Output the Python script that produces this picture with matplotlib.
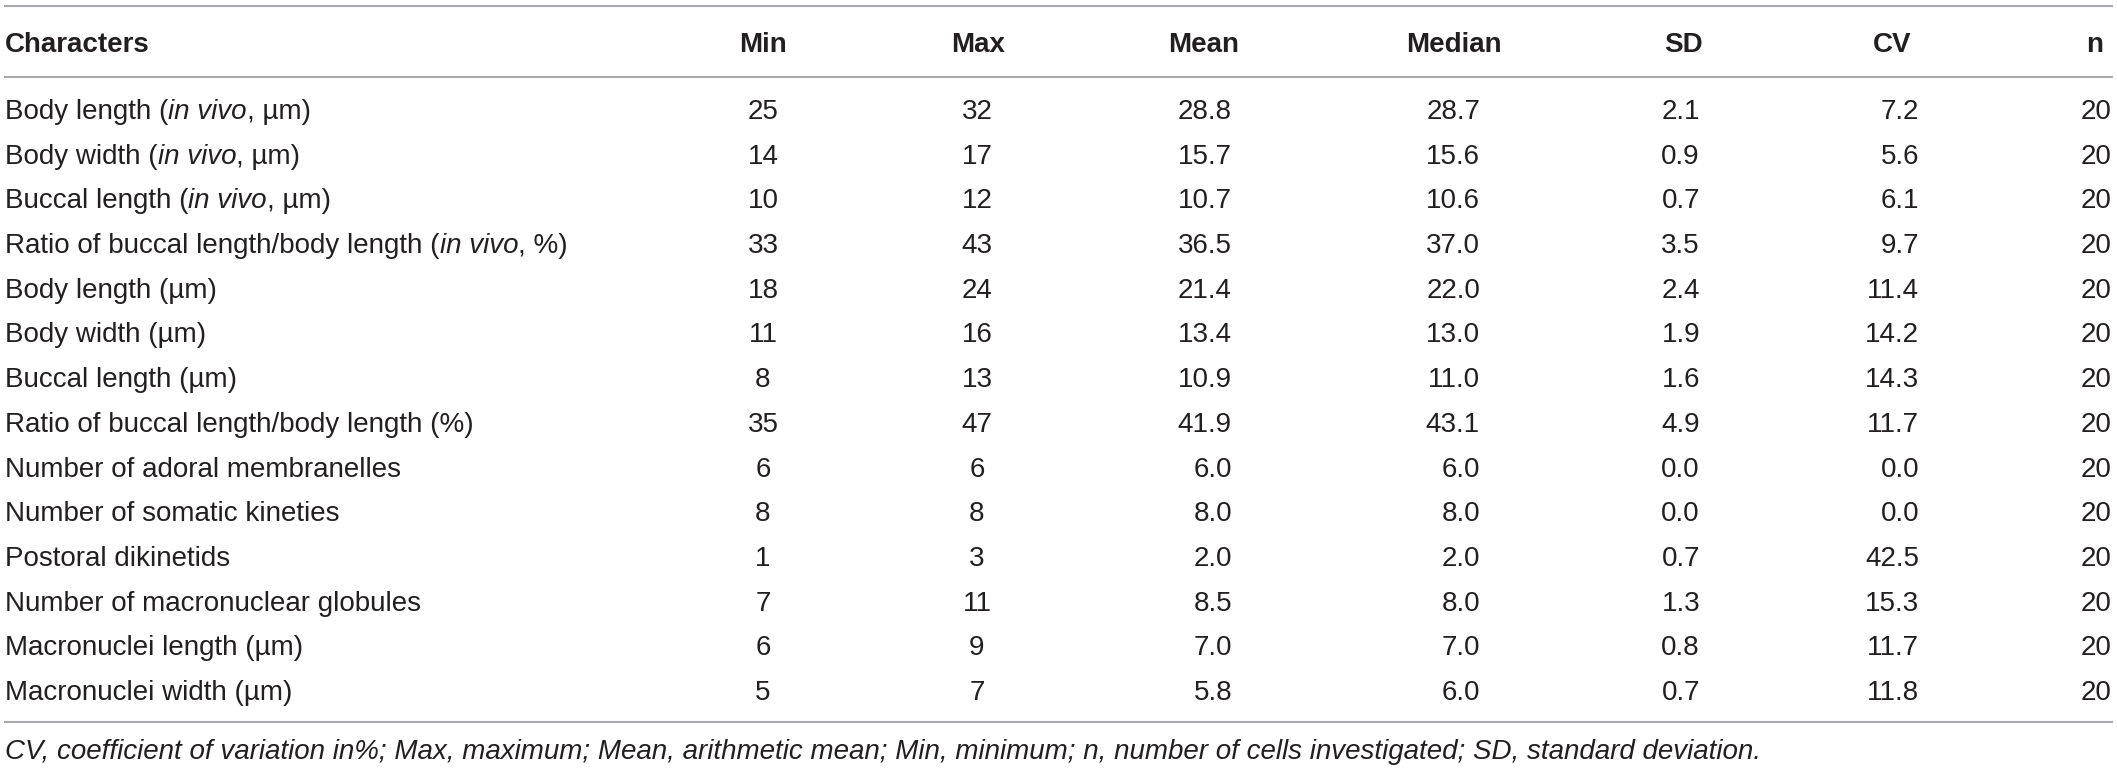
import matplotlib
matplotlib.use("Agg")
import matplotlib.pyplot as plt
from matplotlib.font_manager import FontProperties

# ---------------- data ----------------
headers = ["Characters", "Min", "Max", "Mean", "Median", "SD", "CV", "n"]
characters = [
    "Body length (*in vivo*, µm)",
    "Body width (*in vivo*, µm)",
    "Buccal length (*in vivo*, µm)",
    "Ratio of buccal length/body length (*in vivo*, %)",
    "Body length (µm)",
    "Body width (µm)",
    "Buccal length (µm)",
    "Ratio of buccal length/body length (%)",
    "Number of adoral membranelles",
    "Number of somatic kineties",
    "Postoral dikinetids",
    "Number of macronuclear globules",
    "Macronuclei length (µm)",
    "Macronuclei width (µm)",
]
mins = [25, 14, 10, 33, 18, 11, 8, 35, 6, 8, 1, 7, 6, 5]
maxs = [32, 17, 12, 43, 24, 16, 13, 47, 6, 8, 3, 11, 9, 7]
means = [28.8, 15.7, 10.7, 36.5, 21.4, 13.4, 10.9, 41.9, 6.0, 8.0, 2.0, 8.5, 7.0, 5.8]
medians = [28.7, 15.6, 10.6, 37.0, 22.0, 13.0, 11.0, 43.1, 6.0, 8.0, 2.0, 8.0, 7.0, 6.0]
sds = [2.1, 0.9, 0.7, 3.5, 2.4, 1.9, 1.6, 4.9, 0.0, 0.0, 0.7, 1.3, 0.8, 0.7]
cvs = [7.2, 5.6, 6.1, 9.7, 11.4, 14.2, 14.3, 11.7, 0.0, 0.0, 42.5, 15.3, 11.7, 11.8]
ns = [20, 20, 20, 20, 20, 20, 20, 20, 20, 20, 20, 20, 20, 20]
footnote = ("CV, coefficient of variation in%; Max, maximum; Mean, arithmetic mean; "
            "Min, minimum; n, number of cells investigated; SD, standard deviation.")

# ---------------- layout ----------------
W, H = 2117, 771
FAM = ["Liberation Sans", "DejaVu Sans"]
FS = 20
TXT = "#231f20"
LINE = "#a7a9ac"

fig = plt.figure(figsize=(W / 100, H / 100), dpi=100)
ax = fig.add_axes([0, 0, 1, 1])
ax.set_xlim(0, W)
ax.set_ylim(H, 0)
ax.axis("off")
renderer = fig.canvas.get_renderer()

left_x = 5
# (header center x, value x, value alignment)
col_specs = [
    (763, 763, "center"),
    (978, 977, "center"),
    (1204, 1232, "right"),
    (1454, 1480, "right"),
    (1683, 1700, "right"),
    (1892, 1919, "right"),
    (2095, 2111, "right"),
]
header_base = 52
row_base0 = 119
row_base_last = 700
n_rows = len(characters)
row_step = (row_base_last - row_base0) / (n_rows - 1)
line_ys = [5.5, 77, 722]
foot_base = 759

for y in line_ys:
    ax.plot([4, W - 4], [y, y], color=LINE, lw=1.5, solid_capstyle="butt")

# header
ax.text(left_x, header_base, headers[0], fontfamily=FAM, fontsize=FS,
        fontweight="bold", color=TXT, ha="left", va="baseline")
for (hx, _, _), h in zip(col_specs, headers[1:]):
    ax.text(hx, header_base, h, fontfamily=FAM, fontsize=FS,
            fontweight="bold", color=TXT, ha="center", va="baseline")


def seg_width(s, style):
    fp = FontProperties(family=FAM, size=FS, style=style)
    w1, _, _ = renderer.get_text_width_height_descent("x" + s + "x", fp, ismath=False)
    w0, _, _ = renderer.get_text_width_height_descent("xx", fp, ismath=False)
    return w1 - w0


def draw_rich(x, y, label):
    parts = label.split("*")
    for i, p in enumerate(parts):
        if not p:
            continue
        style = "italic" if i % 2 == 1 else "normal"
        ax.text(x, y, p, fontfamily=FAM, fontsize=FS, style=style,
                color=TXT, ha="left", va="baseline")
        x += seg_width(p, style)


columns = [
    [str(v) for v in mins],
    [str(v) for v in maxs],
    [f"{v:.1f}" for v in means],
    [f"{v:.1f}" for v in medians],
    [f"{v:.1f}" for v in sds],
    [f"{v:.1f}" for v in cvs],
    [str(v) for v in ns],
]

for r in range(n_rows):
    y = row_base0 + r * row_step
    draw_rich(left_x, y, characters[r])
    for (_, vx, al), col in zip(col_specs, columns):
        ax.text(vx, y, col[r], fontfamily=FAM, fontsize=FS, color=TXT,
                ha=al, va="baseline")

ax.text(left_x, foot_base, footnote, fontfamily=FAM, fontsize=FS,
        style="italic", color=TXT, ha="left", va="baseline")

fig.savefig("out.png", dpi=100, facecolor="white")
